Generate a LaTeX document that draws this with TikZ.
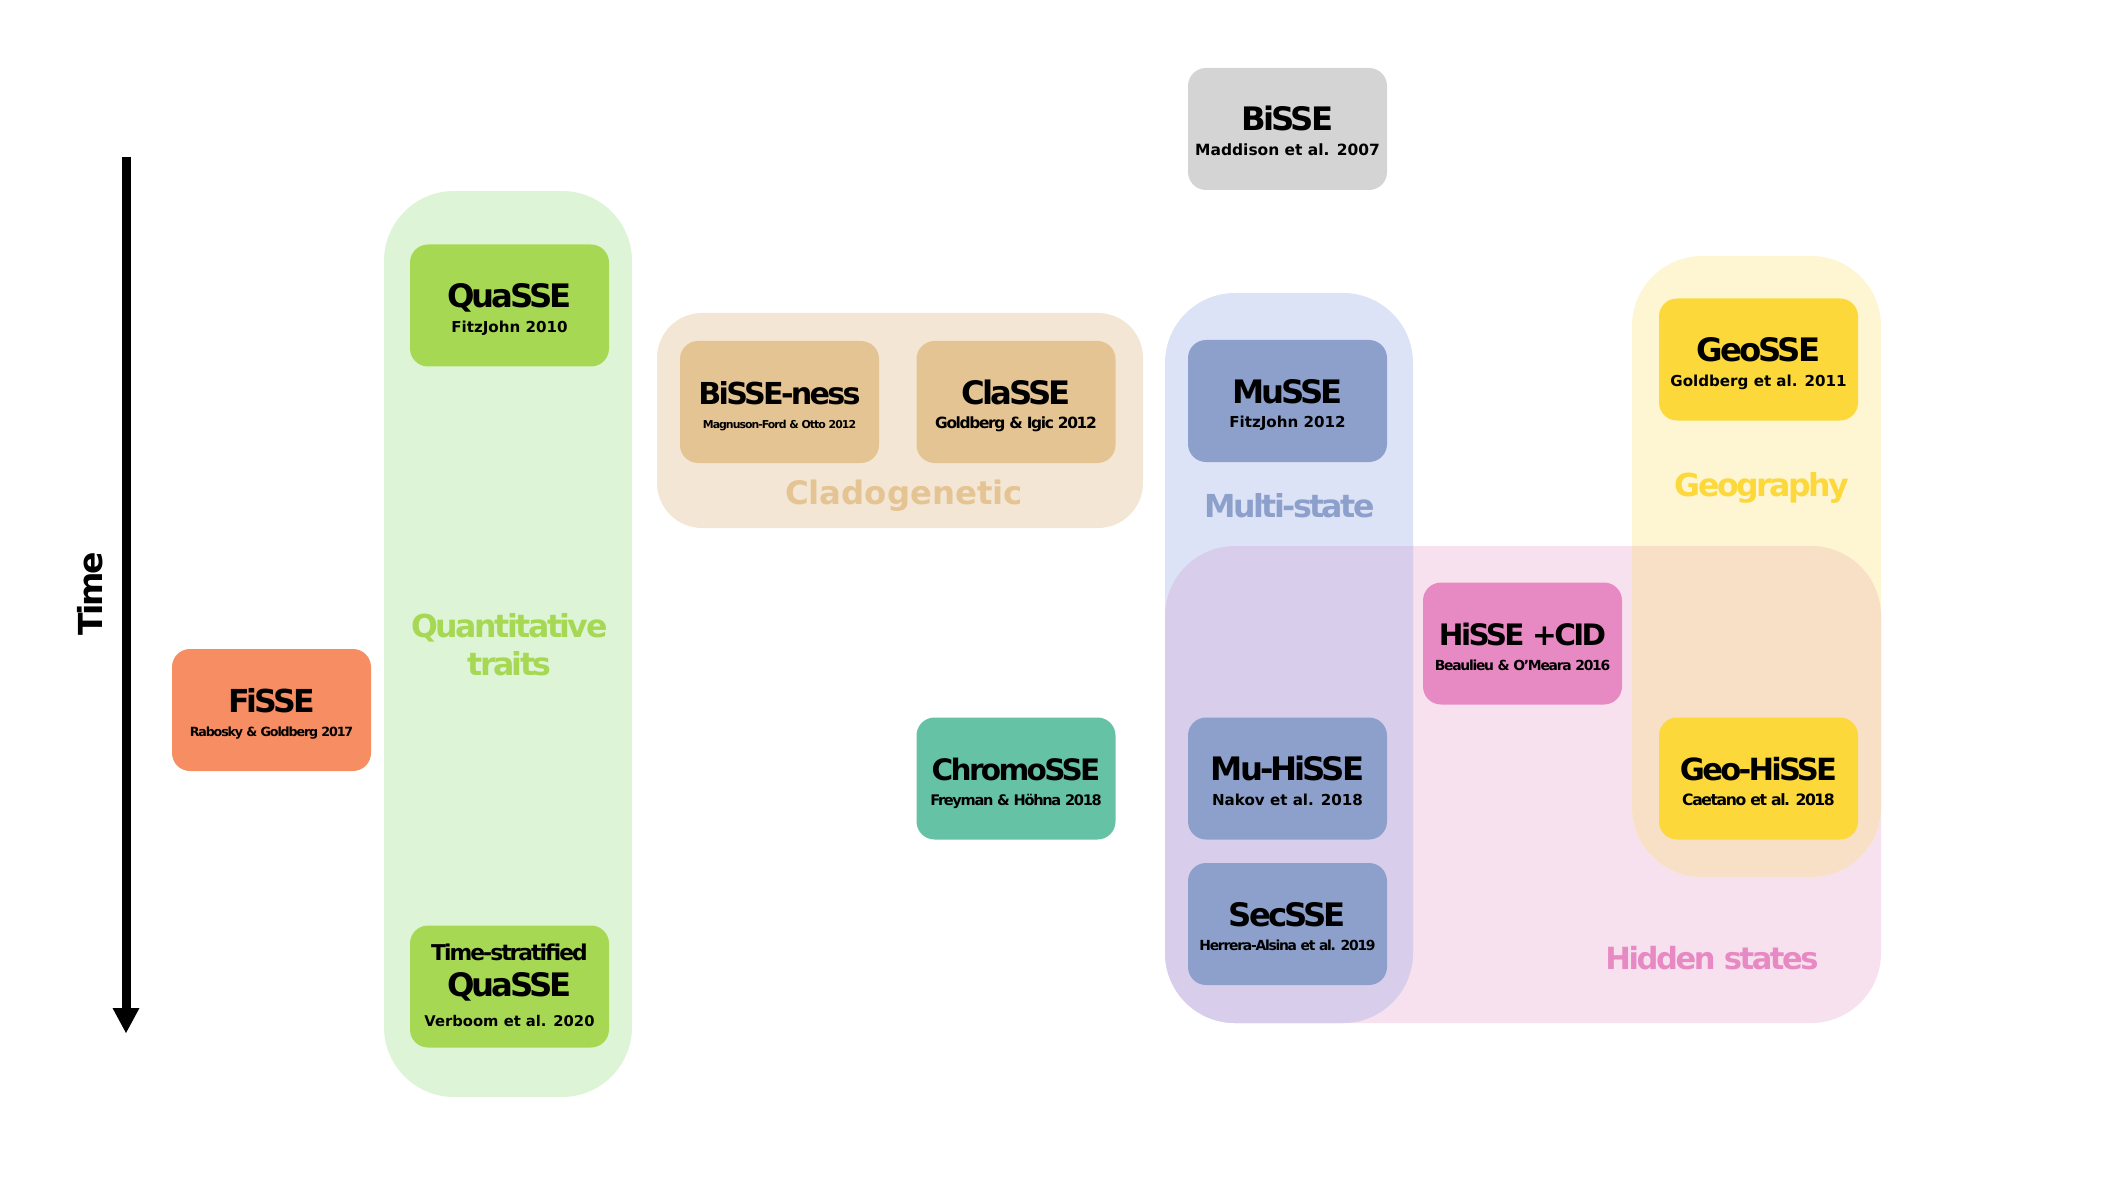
\documentclass[tikz,border=0pt]{standalone}
\usepackage{fontspec}
\setmainfont{DejaVu Sans}
\newfontfamily\ttlfont{DejaVu Sans}[LetterSpace=-9]
\newfontfamily\lblfont{DejaVu Sans}[LetterSpace=-8]
\usepackage{tikz}

\definecolor{bisse}{HTML}{D4D4D4}
\definecolor{quasse}{HTML}{A6D854}
\definecolor{clado}{HTML}{E5C494}
\definecolor{musse}{HTML}{8DA0CB}
\definecolor{hisse}{HTML}{E78AC3}
\definecolor{geosse}{HTML}{FCD83B}
\definecolor{fisse}{HTML}{F78D63}
\definecolor{chromo}{HTML}{66C2A5}
\definecolor{quantbg}{RGB}{221,245,214}
\definecolor{cladobg}{RGB}{243,230,212}
\definecolor{multibg}{RGB}{221,227,247}
\definecolor{geobg}{RGB}{254,245,210}
\definecolor{hidbg}{RGB}{248,225,239}
\definecolor{multihid}{RGB}{216,206,236}
\definecolor{geohid}{RGB}{247,224,197}

% title line and citation line of one model box
\newcommand\sse[4]{\rule{0pt}{9.34pt}{\ttlfont\fontsize{#1}{7}\selectfont #2}\\{\fontsize{#3}{7}\selectfont #4}\rule[-1.2pt]{0pt}{1.2pt}}
% same, with a tightly set citation
\newcommand\ssetight[4]{\rule{0pt}{9.34pt}{\ttlfont\fontsize{#1}{7}\selectfont #2}\\{\ttlfont\fontsize{#3}{7}\selectfont #4}\rule[-1.2pt]{0pt}{1.2pt}}

\begin{document}
\begin{tikzpicture}
	\tikzstyle{every node}+=[inner sep=0pt]
	\tikzstyle{sse}=[rounded corners=0.18cm, minimum width=1.99cm, minimum height=1.22cm, align=center, font=\bfseries\fontsize{4}{7}\selectfont]
	\tikzstyle{grp}=[rounded corners=0.7cm]
	\tikzstyle{grplbl}=[font=\lblfont\bfseries\fontsize{9}{10.8}\selectfont, align=center]
	\useasboundingbox (0,0) rectangle (21.05,-11.84);
	% groups
	\fill [hidbg, grp] (11.65,-5.46) rectangle (18.81,-10.23);
	\fill [multibg, grp] (11.65,-2.93) rectangle (14.13,-10.23);
	\fill [geobg, grp] (16.32,-2.56) rectangle (18.81,-8.77);
	\begin{scope}
		\clip [grp] (11.65,-5.46) rectangle (18.81,-10.23);
		\fill [multihid, grp] (11.65,-2.93) rectangle (14.13,-10.23);
		\fill [geohid, grp] (16.32,-2.56) rectangle (18.81,-8.77);
	\end{scope}
	\fill [quantbg, grp] (3.84,-1.91) rectangle (6.32,-10.97);
	\fill [cladobg, rounded corners=0.45cm] (6.57,-3.13) rectangle (11.43,-5.28);
	\node [grplbl, text=quasse] (quant-l) at (5.095,-6.45) {Quantitative\\traits};
	\node [grplbl, text=clado, font=\bfseries\fontsize{9.2}{10}\selectfont, anchor=base] (clado-l) at (9.04,-5.04) {Cladogenetic};
	\node [grplbl, text=musse, anchor=base] (multi-l) at (12.895,-5.17) {Multi-state};
	\node [grplbl, text=geosse, anchor=base] (geo-l) at (17.62,-4.96) {Geography};
	\node [grplbl, text=hisse, anchor=base, font=\lblfont\bfseries\fontsize{8.7}{10}\selectfont] (hid-l) at (17.12,-9.69) {Hidden states};
	% models
	\node [sse, fill=bisse] (bisse) at (12.875,-1.29) {\sse{9.2}{BiSSE}{4.4}{Maddison et al. 2007}};
	\node [sse, fill=quasse] (quasse) at (5.095,-3.055) {\sse{9.2}{QuaSSE}{4.3}{FitzJohn 2010}};
	\node [sse, fill=clado] (bisseness) at (7.795,-4.02) {\ssetight{8.6}{BiSSE-ness}{3.1}{Magnuson-Ford \& Otto 2012}};
	\node [sse, fill=clado] (classe) at (10.16,-4.02) {\ssetight{9.2}{ClaSSE}{4.4}{Goldberg \& Igic 2012}};
	\node [sse, fill=musse] (musse) at (12.875,-4.01) {\sse{9.2}{MuSSE}{4.3}{FitzJohn 2012}};
	\node [sse, fill=geosse] (geosse) at (17.585,-3.595) {\sse{9.2}{GeoSSE}{4.3}{Goldberg et al. 2011}};
	\node [sse, fill=hisse] (hisse) at (15.225,-6.435) {\ssetight{8.4}{HiSSE +CID}{3.95}{Beaulieu \& O’Meara 2016}};
	\node [sse, fill=fisse] (fisse) at (2.715,-7.10) {\ssetight{9.0}{FiSSE}{3.6}{Rabosky \& Goldberg 2017}};
	\node [sse, fill=chromo] (chromosse) at (10.16,-7.785) {\ssetight{8.4}{ChromoSSE}{4.15}{Freyman \& Höhna 2018}};
	\node [sse, fill=musse] (muhisse) at (12.875,-7.785) {\sse{9.2}{Mu-HiSSE}{4.3}{Nakov et al. 2018}};
	\node [sse, fill=geosse] (geohisse) at (17.585,-7.785) {\ssetight{8.7}{Geo-HiSSE}{4.45}{Caetano et al. 2018}};
	\node [sse, fill=musse] (secsse) at (12.875,-9.24) {\ssetight{9.2}{SecSSE}{3.95}{Herrera-Alsina et al. 2019}};
	\node [sse, fill=quasse] (tsquasse) at (5.095,-9.865) {\rule{0pt}{4.9pt}{\ttlfont\fontsize{6.2}{8}\selectfont Time-stratified}\\[3.24pt]{\ttlfont\fontsize{9.2}{8}\selectfont QuaSSE}\\[1.54pt]{\fontsize{4.2}{8}\selectfont Verboom et al. 2020}\rule[-1.2pt]{0pt}{1.2pt}};
	% time axis
	\coordinate (t0) at (1.26,-1.57);
	\coordinate (t1) at (1.26,-10.33);
	\draw [line width=0.09cm] (t0) -- ([yshift=0.22cm]t1);
	\fill (t1) -- ++(-0.135,0.25) -- ++(0.27,0) -- cycle;
	\node [grplbl, rotate=90, font=\lblfont\bfseries\fontsize{9.4}{10}\selectfont] (time) at (0.90,-5.94) {Time};
\end{tikzpicture}
\end{document}
